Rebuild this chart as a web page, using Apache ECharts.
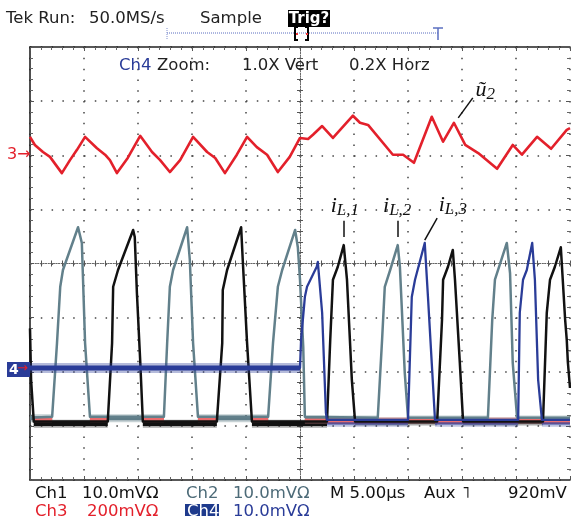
<!DOCTYPE html>
<html><head><meta charset="utf-8">
<script src="https://cdn.jsdelivr.net/npm/echarts@6/dist/echarts.min.js"></script>
<style>html,body{margin:0;padding:0;background:#fff}#c{width:571px;height:516px}</style>
</head><body><div id="c"></div>
<script>
// x in divisions (-5..5, 5 us/div), y in divisions (-4..4)
const ch3Red = [[-5,2.34],[-4.91,2.19],[-4.76,2.06],[-4.63,1.97],[-4.41,1.67],[-4.26,1.91],[-4.13,2.10],[-3.98,2.34],[-3.76,2.13],[-3.61,2.01],[-3.52,1.91],[-3.39,1.67],[-3.19,1.95],[-2.96,2.36],[-2.74,2.06],[-2.59,1.91],[-2.41,1.69],[-2.22,1.91],[-1.98,2.34],[-1.72,2.06],[-1.57,1.95],[-1.39,1.67],[-1.17,2.01],[-0.98,2.34],[-0.80,2.15],[-0.61,2.01],[-0.41,1.69],[-0.19,1.97],[0,2.32],[0.15,2.30],[0.24,2.38],[0.41,2.54],[0.61,2.32],[0.98,2.73],[1.11,2.60],[1.26,2.56],[1.72,2.01],[1.91,2.01],[2.11,1.86],[2.44,2.71],[2.65,2.25],[2.85,2.60],[3.06,2.19],[3.30,2.04],[3.65,1.75],[3.94,2.19],[4.11,2.01],[4.39,2.34],[4.65,2.12],[4.94,2.47],[5,2.50]];
const ch2Grey = [[-5,-2.85],[-4.59,-2.83],[-4.50,-1.47],[-4.44,-0.43],[-4.39,-0.12],[-4.11,0.67],[-4.04,0.38],[-3.98,-1.47],[-3.89,-2.83],[-2.52,-2.83],[-2.46,-1.47],[-2.41,-0.43],[-2.35,-0.12],[-2.09,0.67],[-2.04,0.06],[-1.98,-1.47],[-1.89,-2.83],[-0.59,-2.83],[-0.50,-1.47],[-0.41,-0.43],[-0.33,-0.12],[-0.09,0.62],[-0.04,0.30],[0,-0.30],[0.06,-1.54],[0.09,-2.83],[1.44,-2.85],[1.52,-1.41],[1.57,-0.43],[1.67,-0.12],[1.81,0.34],[1.85,-0.06],[1.94,-2.02],[2.00,-2.85],[3.48,-2.85],[3.56,-1.04],[3.61,-0.30],[3.83,0.38],[3.89,-0.18],[3.94,-1.84],[4.02,-2.85],[5,-2.85]];
const ch1Black = [[-5,-1.2],[-4.98,-2.15],[-4.93,-2.92],[-3.56,-2.92],[-3.48,-1.47],[-3.46,-0.43],[-3.37,-0.12],[-3.09,0.62],[-3.06,0.49],[-3.02,-0.55],[-2.96,-1.78],[-2.91,-2.92],[-1.54,-2.92],[-1.44,-1.47],[-1.43,-0.49],[-1.35,-0.12],[-1.09,0.67],[-1.06,0.06],[-0.98,-1.47],[-0.89,-2.92],[0.50,-2.92],[0.56,-1.41],[0.61,-0.30],[0.70,-0.06],[0.81,0.34],[0.87,-0.30],[0.96,-2.15],[1.02,-2.92],[2.54,-2.92],[2.63,-1.04],[2.65,-0.30],[2.74,-0.06],[2.83,0.25],[2.87,-0.30],[2.96,-1.84],[3.02,-2.92],[4.50,-2.92],[4.57,-0.91],[4.63,-0.30],[4.72,-0.06],[4.83,0.30],[4.91,-1.04],[4.94,-1.41],[4.96,-1.82],[5,-2.30]];
const ch4Blue = [[-5,-1.93],[0,-1.93],[0.02,-1.41],[0.09,-0.62],[0.13,-0.43],[0.31,-0.06],[0.33,0.03],[0.41,-0.91],[0.48,-2.76],[0.50,-2.89],[2.00,-2.89],[2.07,-0.62],[2.13,-0.30],[2.31,0.38],[2.37,-0.62],[2.44,-1.84],[2.50,-2.89],[4.04,-2.89],[4.07,-0.91],[4.13,-0.30],[4.20,-0.12],[4.30,0.38],[4.35,-0.30],[4.41,-2.15],[4.48,-2.89],[5,-2.89]];
// noise bands on flat parts (segments broken by nulls)
const greyNoise = [[-5,-2.86],[-4.59,-2.86],[-4.59,null],[-3.89,-2.86],[-2.52,-2.86],[-2.52,null],[-1.89,-2.86],[-0.59,-2.86],[-0.59,null],[0.09,-2.88],[1.44,-2.88],[1.44,null],[2.00,-2.88],[3.48,-2.88],[3.48,null],[4.02,-2.88],[5,-2.88]];
const blackNoise = [[-4.93,-2.96],[-3.56,-2.96],[-3.56,null],[-2.91,-2.96],[-1.54,-2.96],[-1.54,null],[-0.89,-2.96],[0.50,-2.96],[0.50,null],[1.02,-2.92],[2.54,-2.92],[2.54,null],[3.02,-2.92],[4.50,-2.92],[4.50,null]];
const blueFlatNoise = [[-5,-1.93],[0,-1.93]];
const blueBaseNoise = [[0.50,-2.95],[2.00,-2.95],[2.00,null],[2.50,-2.95],[4.04,-2.95],[4.04,null],[4.48,-2.95],[5,-2.95]];
const pinkNoise = [[-4.91,-2.88],[-4.59,-2.88],[-4.59,null],[-3.89,-2.88],[-3.56,-2.88],[-3.56,null],[-2.91,-2.88],[-2.52,-2.88],[-2.52,null],[-1.89,-2.88],[-1.54,-2.88],[-1.54,null],[-0.89,-2.88],[-0.59,-2.88],[-0.59,null],[0.09,-2.90],[5,-2.90]];
// annotations (data coords)
const labelNames = ['L,1','L,2','L,3'];
const labelPos = [[0.83,1.06],[1.80,1.06],[2.83,1.08]];
const leaders = [[[0.81,0.79],[0.81,0.49]],[[1.81,0.79],[1.81,0.49]],[[2.54,0.84],[2.31,0.43]],[[3.20,3.06],[2.93,2.69]]];
const u2Pos = [3.43,3.21];

const F = 'DejaVu Sans';
const chart = echarts.init(document.getElementById('c'));
function T(x,y,text,fill,size,weight,align){
  return {type:'text',x:x,y:y,z:10,style:{text:text,fill:fill,font:(weight||'normal')+' '+(size||16)+'px "'+F+'"',align:align||'left',verticalAlign:'middle',textAlign:align||'left',textVerticalAlign:'middle'}};
}
const dotGrid = {show:true,lineStyle:{color:'#444',width:1.5,type:[1.5,9.32]}};
const dotGridH = {show:true,lineStyle:{color:'#444',width:1.5,type:[1.5,9.3]}};
const frame = {show:true,onZero:false,lineStyle:{color:'#222',width:1.6}};
function edgeX(pos){return {type:'value',min:-5,max:5,interval:1,position:pos,axisLine:frame,axisLabel:{show:false},axisTick:{show:true,inside:true,length:4,lineStyle:{color:'#555'}},minorTick:{show:true,splitNumber:5,length:3,lineStyle:{color:'#666'}},splitLine:pos==='bottom'?dotGrid:{show:false}};}
function edgeY(pos){return {type:'value',min:-4,max:4,interval:1,position:pos,axisLine:pos==='left'?frame:{show:false,onZero:false},axisLabel:{show:false},axisTick:{show:true,inside:true,length:4,lineStyle:{color:'#555'}},minorTick:{show:true,splitNumber:5,length:3,lineStyle:{color:'#666'}},splitLine:pos==='left'?dotGridH:{show:false}};}
function centerX(inside){return {type:'value',min:-5,max:5,interval:1,position:'bottom',axisLine:{show:true,onZero:true,onZeroAxisIndex:0,lineStyle:{color:'#666',width:1,type:[1,1.6]}},axisLabel:{show:false},axisTick:{show:true,inside:inside,length:3,lineStyle:{color:'#555'}},minorTick:{show:true,splitNumber:5,length:3,lineStyle:{color:'#555'}},splitLine:{show:false}};}
function centerY(inside){return {type:'value',min:-4,max:4,interval:1,position:'left',axisLine:{show:true,onZero:true,onZeroAxisIndex:0,lineStyle:{color:'#666',width:1,type:[1,1.6]}},axisLabel:{show:false},axisTick:{show:true,inside:inside,length:3,lineStyle:{color:'#555'}},minorTick:{show:true,splitNumber:5,length:3,lineStyle:{color:'#555'}},splitLine:{show:false}};}
function band(data,color,w,op,z){return {type:'line',data:data,symbol:'none',connectNulls:false,animation:false,silent:true,z:z,lineStyle:{color:color,width:w,opacity:op}};}
function trace(data,color,w,z){return {type:'line',data:data,symbol:'none',animation:false,silent:true,z:z,lineStyle:{color:color,width:w,join:'round'}};}
const rich = {i:{fontFamily:'Liberation Serif',fontStyle:'italic',fontSize:22,lineHeight:26,verticalAlign:'middle',color:'#111'},s:{fontFamily:'Liberation Serif',fontStyle:'italic',fontSize:17,lineHeight:14,verticalAlign:'bottom',color:'#111'}};
const mpData = labelNames.map((n,k)=>({coord:labelPos[k],label:{formatter:'{i|i}{s|'+n+'}'}}));
mpData.push({coord:u2Pos,label:{formatter:'{i|\u0169}{s|2}'}});

chart.setOption({
  animation:false,
  backgroundColor:'#fff',
  grid:{left:30,top:47,width:540,height:433,show:false,containLabel:false},
  xAxis:[edgeX('bottom'),edgeX('top'),centerX(true),centerX(false)],
  yAxis:[edgeY('left'),edgeY('right'),centerY(true),centerY(false)],
  series:[
    band(blackNoise,'#111',8,0.35,2), band(blackNoise,'#111',4.5,1,2),
    band(greyNoise,'#5f7d88',8,0.35,2), band(greyNoise,'#5f7d88',4,1,2),
    band(blueBaseNoise,'#2a3c98',7,0.3,2), band(blueBaseNoise,'#2a3c98',2.5,0.9,2),
    band(pinkNoise,'#f26b6b',6,0.4,3), band(pinkNoise,'#f26b6b',3,0.9,3),
    trace(ch2Grey,'#62808b',2.5,4),
    trace(ch1Black,'#111',2.5,4),
    band(blueFlatNoise,'#2a3c98',10,0.35,5), band(blueFlatNoise,'#2a3c98',5,1,5),
    trace(ch4Blue,'#2a3c98',2.3,5),
    trace(ch3Red,'#e3202b',2.6,6),
    {type:'line',data:[],symbol:'none',z:7,
      markLine:{silent:true,symbol:'none',animation:false,lineStyle:{color:'#111',width:1.5,type:'solid'},label:{show:false},
        data:leaders.map(l=>[{coord:l[0]},{coord:l[1]}])},
      markPoint:{silent:true,symbol:'rect',symbolSize:1,animation:false,itemStyle:{color:'rgba(0,0,0,0)'},
        label:{show:true,position:'inside',rich:rich},data:mpData}}
  ],
  graphic:[
    T(6,19,'Tek Run:','#222',16.5),
    T(89,19,'50.0MS/s','#222',16.5),
    T(200,19,'Sample','#222',16.5),
    {type:'rect',shape:{x:288,y:10,width:42,height:17},style:{fill:'#000'},z:9},
    T(309,19,'Trig?','#fff',15,'bold','center'),
    {type:'line',shape:{x1:167,y1:33,x2:438,y2:33},style:{stroke:'#5b6fc0',lineWidth:1,lineDash:[1,1]},z:9},
    {type:'line',shape:{x1:167,y1:28,x2:167,y2:39},style:{stroke:'#8090d0',lineWidth:1,lineDash:[1,1]},z:9},
    {type:'polyline',shape:{points:[[433,28],[443,28]]},style:{stroke:'#5b6fc0',lineWidth:1.5},z:9},
    {type:'line',shape:{x1:438,y1:28,x2:438,y2:40},style:{stroke:'#5b6fc0',lineWidth:1.5},z:9},
    {type:'polyline',shape:{points:[[298,27],[295,27],[295,40],[298,40]]},style:{stroke:'#000',lineWidth:2,fill:null},z:9},
    {type:'polyline',shape:{points:[[305,27],[308,27],[308,40],[305,40]]},style:{stroke:'#000',lineWidth:2,fill:null},z:9},
    {type:'rect',shape:{x:296,y:33,width:2,height:2},style:{fill:'#e33'},z:10},
    {type:'rect',shape:{x:306,y:33,width:2,height:2},style:{fill:'#e33'},z:10},
    T(119,66,'Ch4','#2a3c98',16.5),
    T(157,66,'Zoom:','#222',16.5),
    T(242,66,'1.0X Vert','#222',16.5),
    T(349,66,'0.2X Horz','#222',16.5),
    T(7,155,'3\u2192','#e3202b',16),
    {type:'rect',shape:{x:7,y:362,width:23,height:15},style:{fill:'#2a3c98'},z:9},
    T(9,370,'4','#fff',14,'bold'),
    T(17,369,'\u2192','#e3202b',13),
    T(35,494,'Ch1','#111',16.5),
    T(82,494,'10.0mV\u03A9','#111',16.5),
    T(186,494,'Ch2','#4d6b78',16.5),
    T(233,494,'10.0mV\u03A9','#4d6b78',16.5),
    T(330,494,'M 5.00\u00B5s','#111',16.5),
    T(424,494,'Aux','#111',16.5),
    T(462,494,'\u02E5','#111',16.5),
    T(508,494,'920mV','#111',16.5),
    T(35,512,'Ch3','#e3202b',16.5),
    T(87,512,'200mV\u03A9','#e3202b',16.5),
    {type:'rect',shape:{x:185,y:504,width:34,height:16},style:{fill:'#1e3a8c'},z:9},
    T(187,512,'Ch4','#fff',16.5),
    T(233,512,'10.0mV\u03A9','#2a3c98',16.5)
  ]
});
</script></body></html>
